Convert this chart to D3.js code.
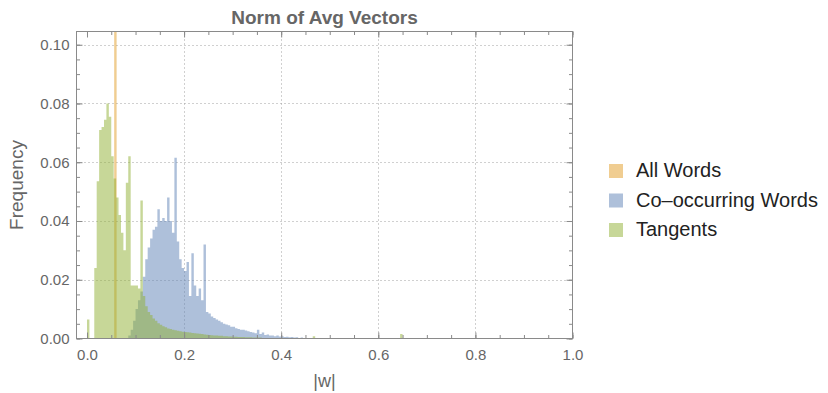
<!DOCTYPE html>
<html>
<head>
<meta charset="utf-8">
<script src="https://cdn.jsdelivr.net/npm/d3@7"></script>
<style>
  body { margin: 0; background: #fff; }
  text { font-family: "Liberation Sans", Arial, sans-serif; }
</style>
</head>
<body>
<svg id="chart" width="828" height="393"></svg>
<script>
// histogram bins are 0.005 wide
const binWidth = 0.005;

// All Words: one bin, far above the visible range
const allWordsStart = 0.056;
const allWordsFreq = [1.0];

// Co-occurring Words, bins from coStart on
const coStart = 0.085;
const coFreq = [
  0.001, 0.003, 0.006, 0.010, 0.013, 0.016, 0.021, 0.027, 0.031, 0.034,
  0.037, 0.038, 0.044, 0.040, 0.041, 0.040, 0.048, 0.040, 0.036, 0.0615,
  0.033, 0.027, 0.024, 0.023, 0.026, 0.0145, 0.029, 0.018, 0.0145, 0.017,
  0.013, 0.032, 0.009, 0.0085, 0.0075, 0.007, 0.0065, 0.006, 0.0055, 0.005,
  0.0048, 0.0045, 0.004, 0.004, 0.0035, 0.0032, 0.003, 0.003, 0.0027, 0.0025,
  0.0022, 0.002, 0.0018, 0.003, 0.0015, 0.002, 0.0012, 0.0014, 0.001, 0.001,
  0.0008, 0.001, 0.0007, 0.0008, 0.0005, 0.0006, 0.0004, 0.0005, 0.0003, 0.0004,
  0.0002, 0.0003, 0.0002, 0.0001, 0.0001, 0.0001, 0.0001, 0.0001, 0.0001, 0.0001,
  0.0001, 0.0001, 0.0001
];

// Tangents, bins from tanStart on
const tanStart = 0.0;
const tanFreq = [
  0.0065, 0, 0, 0.024, 0.0535, 0.071, 0.072, 0.0745, 0.080, 0.0755,
  0.062, 0.0545, 0.048, 0.042, 0.036, 0.030, 0.053, 0.062, 0.018, 0.018,
  0.018, 0.017, 0.047, 0.0145, 0.011, 0.009, 0.008, 0.0068, 0.006, 0.0052,
  0.0047, 0.0042, 0.0038, 0.0034, 0.0032, 0.003, 0.0028, 0.0026, 0.0025, 0.0023,
  0.0022, 0.0021, 0.002, 0.0019, 0.0018, 0.0017, 0.0016, 0.0015, 0.0014, 0.0013,
  0.0012, 0.0011, 0.001, 0.001, 0.0009, 0.0009, 0.0008, 0.0008, 0.0007, 0.0007,
  0.0006, 0.0006, 0.0005, 0.0005, 0.0005, 0.0004, 0.0004, 0.0004, 0.0003, 0.0003,
  0.0003, 0.0003, 0.0002, 0.0002, 0.0002, 0.0002, 0.0002, 0.0001, 0.0001, 0.0001,
  0.0001, 0.0001, 0.0001, 0.0001, 0.0001, 0.0001, 0.0001, 0.0001, 0.0001, 0.0001,
  0.0001, 0.0001, 0.0001, 0.0008
];
// a few isolated tangent bins further out
const tanExtraStart = [0.645];
const tanExtraFreq = [0.0015];

const xTicks = [0, 0.2, 0.4, 0.6, 0.8, 1.0];
const yTicks = [0, 0.02, 0.04, 0.06, 0.08, 0.10];
const seriesNames = ['All Words', 'Co\u2013occurring Words', 'Tangents'];
const seriesColors = ['#e19c24', '#5e81b5', '#8fb032'];

const toBins = (start, freqs) => freqs.map((f, i) => ({
  x0: start + i * binWidth,
  x1: start + (i + 1) * binWidth,
  f,
}));

const series = [
  toBins(allWordsStart, allWordsFreq),
  toBins(coStart, coFreq),
  toBins(tanStart, tanFreq)
    .concat(tanExtraStart.map((s, i) => ({ x0: s, x1: s + binWidth, f: tanExtraFreq[i] }))),
];

// turn bins into step points so each series is one seamless shape
function stepPoints(bins) {
  const pts = [];
  bins.forEach((b, i) => {
    pts.push({ v: b.x0, f: b.f });
    const next = bins[i + 1];
    if (!next || Math.abs(next.x0 - b.x1) > 1e-9) pts.push({ v: b.x1, f: 0 });
  });
  return pts;
}

const svg = d3.select('#chart');

const plotLeft = 76.5;
const plotRight = 572.5;
const plotTop = 31.5;
const plotBottom = 338.5;

const x = d3.scaleLinear().domain([-0.0216, 1.0]).range([plotLeft, plotRight]);
const y = d3.scaleLinear().domain([0, 0.1045]).range([plotBottom, plotTop]);

svg.append('defs').append('clipPath')
  .attr('id', 'plot-clip')
  .append('rect')
  .attr('x', plotLeft)
  .attr('y', plotTop)
  .attr('width', plotRight - plotLeft)
  .attr('height', plotBottom - plotTop);

// grid lines
const grid = svg.append('g')
  .attr('stroke', '#a0a0a0')
  .attr('stroke-width', 1)
  .attr('stroke-dasharray', '1,3');

grid.selectAll('.vgrid')
  .data(xTicks.filter(d => d > 0 && d < 1))
  .enter().append('line')
  .attr('x1', d => Math.round(x(d)) + 0.5)
  .attr('x2', d => Math.round(x(d)) + 0.5)
  .attr('y1', plotTop)
  .attr('y2', plotBottom);

grid.selectAll('.hgrid')
  .data(yTicks.filter(d => d > 0))
  .enter().append('line')
  .attr('x1', plotLeft)
  .attr('x2', plotRight)
  .attr('y1', d => Math.round(y(d)) + 0.5)
  .attr('y2', d => Math.round(y(d)) + 0.5);

// bars
const plot = svg.append('g').attr('clip-path', 'url(#plot-clip)');

const area = d3.area()
  .curve(d3.curveStepAfter)
  .x(p => x(p.v))
  .y0(y(0))
  .y1(p => y(p.f));

series.forEach((bins, i) => {
  plot.append('path')
    .datum(stepPoints(bins))
    .attr('d', area)
    .attr('fill', seriesColors[i])
    .attr('fill-opacity', 0.5);
});

// frame with ticks on all four sides
const frameColor = '#8a8a8a';
const xMinor = d3.range(0, 1.0001, 0.05);
const yMinor = d3.range(0, 0.1001, 0.005);

function addAxis(axis, transform, labels) {
  const g = svg.append('g')
    .attr('transform', transform)
    .call(axis);
  g.select('.domain').remove();
  g.selectAll('.tick line').attr('stroke', frameColor);
  g.selectAll('.tick text')
    .attr('fill', '#666')
    .style('font-size', '15px')
    .style('font-family', '"Liberation Sans", Arial, sans-serif');
  if (!labels) g.selectAll('.tick text').remove();
  return g;
}

addAxis(d3.axisBottom(x).tickValues(xMinor).tickSize(-3.5).tickFormat(''), `translate(0,${plotBottom})`, false);
addAxis(d3.axisTop(x).tickValues(xMinor).tickSize(-3.5).tickFormat(''), `translate(0,${plotTop})`, false);
addAxis(d3.axisLeft(y).tickValues(yMinor).tickSize(-3.5).tickFormat(''), `translate(${plotLeft},0)`, false);
addAxis(d3.axisRight(y).tickValues(yMinor).tickSize(-3.5).tickFormat(''), `translate(${plotRight},0)`, false);

addAxis(d3.axisBottom(x).tickValues(xTicks).tickSize(-6).tickPadding(11).tickFormat(d3.format('.1f')),
  `translate(0,${plotBottom})`, true);
addAxis(d3.axisTop(x).tickValues(xTicks).tickSize(-6).tickFormat(''), `translate(0,${plotTop})`, false);
addAxis(d3.axisLeft(y).tickValues(yTicks).tickSize(-6).tickPadding(7).tickFormat(d3.format('.2f')),
  `translate(${plotLeft},0)`, true);
addAxis(d3.axisRight(y).tickValues(yTicks).tickSize(-6).tickFormat(''), `translate(${plotRight},0)`, false);

svg.append('rect')
  .attr('x', plotLeft)
  .attr('y', plotTop)
  .attr('width', plotRight - plotLeft)
  .attr('height', plotBottom - plotTop)
  .attr('fill', 'none')
  .attr('stroke', frameColor);

// title and axis labels
svg.append('text')
  .attr('x', (plotLeft + plotRight) / 2)
  .attr('y', 24)
  .attr('text-anchor', 'middle')
  .attr('fill', '#666')
  .style('font-size', '19px')
  .style('font-weight', 'bold')
  .text('Norm of Avg Vectors');

svg.append('text')
  .attr('x', (plotLeft + plotRight) / 2)
  .attr('y', 387)
  .attr('text-anchor', 'middle')
  .attr('fill', '#666')
  .style('font-size', '18px')
  .text('|w|');

svg.append('text')
  .attr('transform', `translate(23,${(plotTop + plotBottom) / 2}) rotate(-90)`)
  .attr('text-anchor', 'middle')
  .attr('fill', '#666')
  .style('font-size', '19px')
  .text('Frequency');

// legend
const legend = svg.append('g')
  .selectAll('g')
  .data(seriesNames)
  .enter().append('g')
  .attr('transform', (d, i) => `translate(609,${164 + i * 29.5})`);

legend.append('rect')
  .attr('width', 14)
  .attr('height', 14)
  .attr('fill', (d, i) => seriesColors[i])
  .attr('fill-opacity', 0.5);

legend.append('text')
  .attr('x', 27)
  .attr('y', 13)
  .attr('fill', '#222')
  .style('font-size', '20px')
  .text(d => d);
</script>
</body>
</html>
